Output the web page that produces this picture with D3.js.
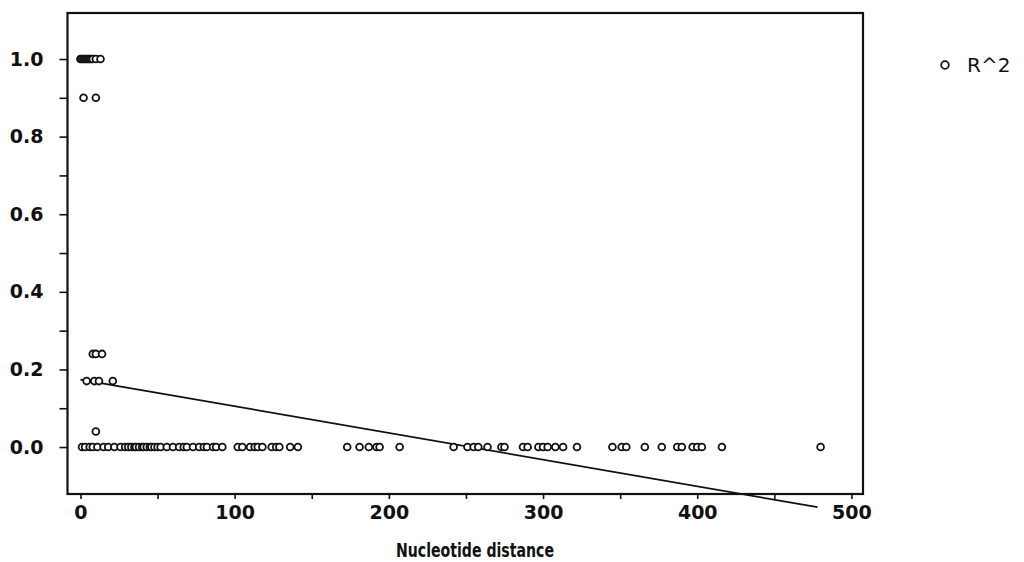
<!DOCTYPE html>
<html>
<head>
<meta charset="utf-8">
<script src="https://cdn.jsdelivr.net/npm/d3@7.9.0/dist/d3.min.js"></script>
<style>
  html, body { margin: 0; padding: 0; background: #fff; }
  svg { display: block; }
  .tick text { font-family: "DejaVu Sans", sans-serif; font-weight: bold; fill: #111; }
  .title { font-family: "DejaVu Sans Condensed", "DejaVu Sans", sans-serif; font-weight: bold; font-size: 20px; fill: #111; }
  .legend text { font-family: "DejaVu Sans", sans-serif; font-size: 20px; fill: #111; }
</style>
</head>
<body>
<svg id="chart" width="1024" height="562"></svg>
<script>
// R^2 by nucleotide distance, grouped by the rows they sit on
const rowOne   = [0, 1, 2, 3, 4, 5, 6, 7, 8, 10, 13];
const rowNine  = [2, 10];
const rowTwo4  = [8, 10, 14];
const rowOne7  = [4, 9, 12, 21];
const rowZero4 = [10];
const rowZero  = [1, 3, 6, 8, 11, 15, 18, 22, 26, 29, 31, 33, 35, 36, 38, 40, 41, 43,
  45, 46, 48, 50, 52, 56, 60, 64, 67, 69, 73, 77, 80, 82, 86, 88, 92, 102, 105, 110,
  113, 115, 118, 124, 127, 129, 136, 141, 173, 181, 187, 192, 194, 207, 242, 251,
  255, 258, 264, 273, 275, 287, 290, 297, 300, 303, 308, 313, 322, 345, 351, 354,
  366, 377, 387, 390, 397, 400, 403, 416, 480];

// fitted line, start and end
const fitX = [0, 478];
const fitY = [0.174, -0.155];

const xTicks = d3.range(0, 501, 50);
const yTicks = d3.range(0, 11).map(d => d / 10);

const points = [
  ...rowOne.map(x => ({ x, y: 1.0 })),
  ...rowNine.map(x => ({ x, y: 0.9 })),
  ...rowTwo4.map(x => ({ x, y: 0.24 })),
  ...rowOne7.map(x => ({ x, y: 0.17 })),
  ...rowZero4.map(x => ({ x, y: 0.04 })),
  ...rowZero.map(x => ({ x, y: 0 }))
];

const svg = d3.select('#chart');
const plotL = 67.5, plotR = 863, plotT = 13, plotB = 494;

const x = d3.scaleLinear().domain([-8.4, 507.5]).range([plotL, plotR]);
const y = d3.scaleLinear().domain([-0.121, 1.1186]).range([plotB, plotT]);

// x axis
svg.append('g')
  .attr('transform', `translate(0,${plotB})`)
  .call(d3.axisBottom(x).tickValues(xTicks).tickSize(5).tickPadding(7)
    .tickFormat(d => d % 100 === 0 ? d : ''))
  .call(g => g.select('.domain').remove())
  .call(g => g.selectAll('.tick line').attr('stroke', '#111').attr('stroke-width', 1.6))
  .call(g => g.selectAll('.tick text').attr('font-size', 19));

// y axis
svg.append('g')
  .attr('transform', `translate(${plotL},0)`)
  .call(d3.axisLeft(y).tickValues(yTicks).tickSize(8).tickPadding(16)
    .tickFormat(d => Math.round(d * 10) % 2 === 0 ? d3.format('.1f')(d) : ''))
  .call(g => g.select('.domain').remove())
  .call(g => g.selectAll('.tick line').attr('stroke', '#111').attr('stroke-width', 1.6))
  .call(g => g.selectAll('.tick text').attr('font-size', 19));

// frame
svg.append('rect')
  .attr('x', plotL).attr('y', plotT)
  .attr('width', plotR - plotL).attr('height', plotB - plotT)
  .attr('fill', 'none').attr('stroke', '#111').attr('stroke-width', 2.2);

// fit line (not clipped, runs under the frame)
svg.append('path')
  .datum(fitX.map((d, i) => [d, fitY[i]]))
  .attr('d', d3.line().x(d => x(d[0])).y(d => y(d[1])))
  .attr('fill', 'none').attr('stroke', '#111').attr('stroke-width', 1.8);

svg.append('g')
  .selectAll('circle')
  .data(points)
  .join('circle')
    .attr('cx', d => x(d.x))
    .attr('cy', d => y(d.y))
    .attr('r', 3.4)
    .attr('fill', '#fff')
    .attr('stroke', '#111')
    .attr('stroke-width', 1.8);

svg.append('text')
  .attr('class', 'title')
  .attr('x', 475).attr('y', 557)
  .attr('text-anchor', 'middle')
  .attr('textLength', 158)
  .attr('lengthAdjust', 'spacingAndGlyphs')
  .text('Nucleotide distance');

// legend
const legend = svg.append('g').attr('class', 'legend');
legend.append('circle')
  .attr('cx', 945).attr('cy', 65).attr('r', 3.8)
  .attr('fill', '#fff').attr('stroke', '#111').attr('stroke-width', 1.8);
legend.append('text')
  .attr('x', 967).attr('y', 65).attr('dy', '0.35em')
  .text('R^2');
</script>
</body>
</html>
